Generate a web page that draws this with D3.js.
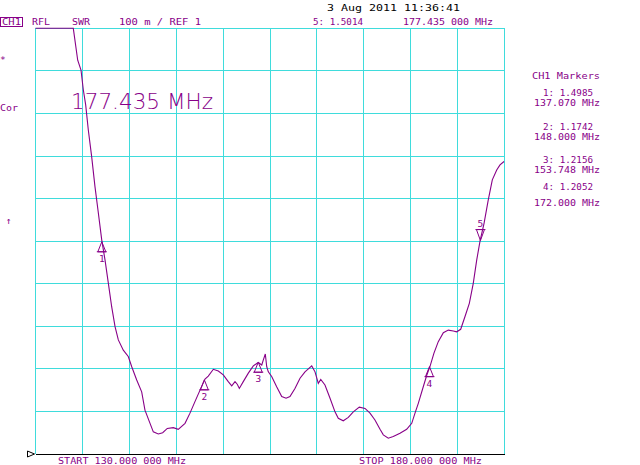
<!DOCTYPE html>
<html>
<head>
<meta charset="utf-8">
<script src="https://cdn.jsdelivr.net/npm/d3@7"></script>
<style>
  html, body { margin: 0; padding: 0; background: #fff; }
  text { font-family: "DejaVu Sans Mono", monospace; font-size: 9.5px; fill: #880088; }
</style>
</head>
<body>
<svg id="chart"></svg>
<script>
// trace: frequency (MHz) and SWR
const freqs = [130, 132, 134.03, 134.5, 134.85, 135.1, 135.35, 135.63, 135.99, 136.34, 136.7, 137.06,
  137.41, 137.76, 138.12, 138.48, 138.83, 139.36, 139.89, 140.26, 140.79, 141.32, 141.67, 142.21,
  142.56, 143.09, 143.56, 144.05, 144.69, 145.22, 145.94, 146.47, 147.0, 147.54, 148.07, 148.42,
  148.96, 149.49, 150.02, 150.55, 150.92, 151.27, 151.51, 151.73, 152.15, 152.69, 153.22, 153.75,
  154.12, 154.29, 154.5, 154.65, 154.82, 155.18, 155.71, 156.25, 156.71, 157.13, 157.66, 158.2,
  158.73, 159.45, 159.8, 160.15, 160.41, 160.86, 161.4, 161.93, 162.28, 162.81, 163.35, 163.88,
  164.52, 165.13, 165.66, 166.19, 166.73, 167.08, 167.61, 168.14, 168.86, 169.57, 170.11, 170.46,
  170.81, 171.34, 171.71, 172.06, 172.48, 172.94, 173.48, 174.01, 174.54, 174.9, 175.33, 175.79,
  176.25, 176.67, 177.04, 177.39, 177.82, 178.27, 178.7, 179.17, 179.52, 179.95];
const swr = [2.45, 2.25, 2.0, 1.925, 1.902, 1.855, 1.82, 1.761, 1.698, 1.628, 1.566, 1.503,
  1.456, 1.402, 1.346, 1.299, 1.268, 1.244, 1.229, 1.205, 1.174, 1.146, 1.103, 1.072,
  1.052, 1.047, 1.05, 1.06, 1.062, 1.058, 1.072, 1.096, 1.123, 1.15, 1.176, 1.183,
  1.199, 1.195, 1.186, 1.17, 1.16, 1.17, 1.164, 1.154, 1.17, 1.19, 1.207, 1.215,
  1.209, 1.221, 1.235, 1.205, 1.193, 1.182, 1.158, 1.135, 1.131, 1.135, 1.154, 1.178,
  1.193, 1.207, 1.193, 1.166, 1.175, 1.162, 1.131, 1.099, 1.084, 1.078, 1.086, 1.099,
  1.11, 1.107, 1.096, 1.08, 1.058, 1.045, 1.037, 1.041, 1.049, 1.058, 1.072, 1.096,
  1.119, 1.158, 1.185, 1.206, 1.237, 1.264, 1.285, 1.291, 1.289, 1.287, 1.293, 1.323,
  1.354, 1.401, 1.456, 1.5, 1.542, 1.597, 1.644, 1.667, 1.679, 1.687];

const markerNums = [1, 2, 3, 4, 5];
const markerFreqs = [137.070, 148.000, 153.748, 172.000, 177.435];
const markerSwr = [1.4985, 1.1742, 1.2156, 1.2052, 1.5014];
const markerSwrLabels = ["1.4985", "1.1742", "1.2156", "1.2052", "1.5014"];
const markerFreqLabels = ["137.070 MHz", "148.000 MHz", "153.748 MHz", "172.000 MHz", "177.435 000 MHz"];

const startLabel = "START 130.000 000 MHz";
const stopLabel = "STOP 180.000 000 MHz";
const dateLabel = "3 Aug 2011  11:36:41";

const W = 640, H = 465;
const svg = d3.select("#chart").attr("width", W).attr("height", H);
svg.append("rect").attr("width", W).attr("height", H).attr("fill", "#fff");

const xScale = d3.scaleLinear().domain([130, 180]).range([35.5, 504.5]);
const yScale = d3.scaleLinear().domain([1, 2]).range([454, 28.3]);

// graticule
const grid = svg.append("g").attr("stroke", "#3fdcdc").attr("shape-rendering", "crispEdges");
grid.selectAll(".vx")
  .data(xScale.ticks(10))
  .enter().append("line")
  .attr("x1", d => xScale(d)).attr("x2", d => xScale(d))
  .attr("y1", yScale(2)).attr("y2", yScale(1));
grid.selectAll(".hy")
  .data(yScale.ticks(10).filter(d => d > 1))
  .enter().append("line")
  .attr("x1", xScale(130)).attr("x2", xScale(180))
  .attr("y1", d => yScale(d)).attr("y2", d => yScale(d));

// reference line at REF 1
svg.append("line")
  .attr("x1", xScale(130)).attr("x2", xScale(180))
  .attr("y1", yScale(1)).attr("y2", yScale(1))
  .attr("stroke", "#000").attr("shape-rendering", "crispEdges");
svg.append("path")
  .attr("d", `M${xScale(130) - 8},${yScale(1) - 3} L${xScale(130) - 1},${yScale(1)} L${xScale(130) - 8},${yScale(1) + 3} Z`)
  .attr("fill", "none").attr("stroke", "#000");

// trace, clipped at the top of the screen
const trace = freqs.map((f, i) => ({ f, s: swr[i] }));
const line = d3.line()
  .x(d => xScale(d.f))
  .y(d => Math.max(yScale(d.s), yScale(2)));
svg.append("path")
  .datum(trace)
  .attr("d", line)
  .attr("fill", "none")
  .attr("stroke", "#880088")
  .attr("stroke-width", 1.1);

// markers
const markers = markerNums.map((n, i) => ({ n, f: markerFreqs[i], s: markerSwr[i] }));
const mk = svg.selectAll(".marker")
  .data(markers)
  .enter().append("g")
  .attr("transform", d => `translate(${xScale(d.f)},${yScale(d.s)})`);
mk.append("path")
  .attr("d", d => d.n === 5 ? "M0,0 L-4,-11 L4,-11 Z M-5,-11 L5,-11" : "M0,0 L-4,10 L4,10 Z M-5,10 L5,10")
  .attr("fill", "none")
  .attr("stroke", "#880088");
mk.append("text")
  .attr("x", 0)
  .attr("y", d => d.n === 5 ? -14 : 20)
  .attr("text-anchor", "middle")
  .text(d => d.n);

function label(x, y, str, opts = {}) {
  const t = svg.append("text").attr("x", x).attr("y", y).text(str);
  if (opts.anchor) t.attr("text-anchor", opts.anchor);
  if (opts.len) t.attr("textLength", opts.len).attr("lengthAdjust", "spacingAndGlyphs");
  if (opts.fill) t.style("fill", opts.fill);
  return t;
}

// header
svg.append("rect").attr("x", 0.5).attr("y", 17.5).attr("width", 22).attr("height", 9)
  .attr("fill", "none").attr("stroke", "#880088");
label(2, 25.3, "CH1", { len: 19 });
label(32, 25.3, "RFL", { len: 18 });
label(72, 25.3, "SWR", { len: 18 });
label(119, 25.3, "100 m / REF 1", { len: 82 });
label(313, 25.3, `5: ${markerSwrLabels[4]}`, { len: 50 });
label(403, 25.3, markerFreqLabels[4], { len: 90 });
label(327, 10.5, dateLabel, { len: 133, fill: "#000" });

// left annotations
label(0, 62.5, "*");
label(0, 111, "Cor", { len: 18 });
label(6, 223.5, "\u2191");

// active marker frequency
label(71, 109.3, "177.435 MHz", { len: 142 })
  .style("font-family", "DejaVu Sans")
  .style("font-weight", 200)
  .style("font-size", "22px");

// marker table
label(566, 79.3, "CH1 Markers", { anchor: "middle", len: 68 });
const rowSwrY = [96.2, 129.6, 162.6, 190.2];
const rowFreqY = [106.2, 139.6, 172.6, 206.2];
markerNums.slice(0, 4).forEach((n, i) => {
  label(568, rowSwrY[i], `${n}: ${markerSwrLabels[i]}`, { anchor: "middle", len: 50 });
  label(567, rowFreqY[i], markerFreqLabels[i], { anchor: "middle", len: 66 });
});

// footer
label(58, 463.5, startLabel, { len: 128 });
label(359, 463.5, stopLabel, { len: 123 });
</script>
</body>
</html>
